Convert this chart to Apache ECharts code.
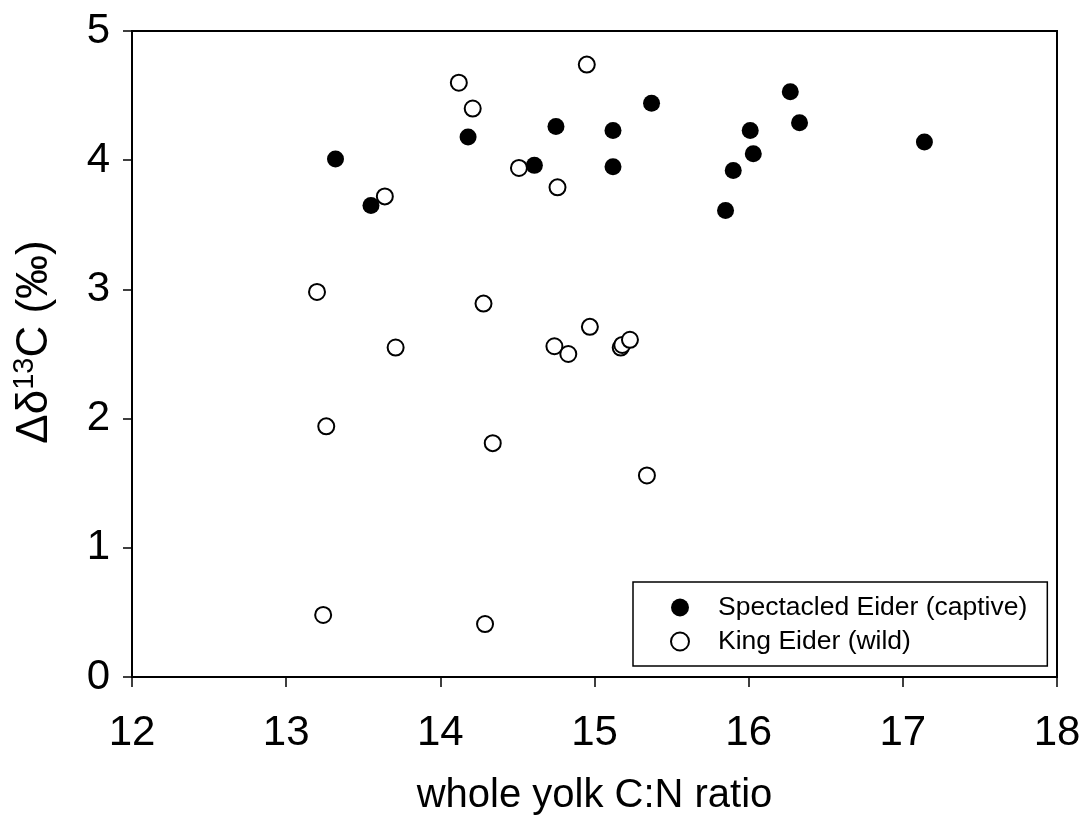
<!DOCTYPE html>
<html>
<head>
<meta charset="utf-8">
<script src="https://cdn.jsdelivr.net/npm/echarts@6/dist/echarts.min.js"></script>
<style>html,body{margin:0;padding:0;background:#fff;}#main{width:1086px;height:815px;}</style>
</head>
<body>
<div id="main"></div>
<script>
// Spectacled Eider (captive): whole yolk C:N ratio, Δδ13C
const spectacledX = [13.32, 13.55, 14.18, 14.61, 14.75, 15.12, 15.12, 15.37, 15.85, 15.90, 16.01, 16.03, 16.27, 16.33, 17.14];
const spectacledY = [4.01, 3.65, 4.18, 3.96, 4.26, 4.23, 3.95, 4.44, 3.61, 3.92, 4.23, 4.05, 4.53, 4.29, 4.14];
// King Eider (wild)
const kingX = [14.12, 14.21, 13.64, 14.51, 14.76, 14.95, 13.20, 13.71, 14.28, 13.26, 14.34, 14.74, 14.83, 14.97, 15.17, 15.18, 15.23, 15.34, 13.24, 14.29];
const kingY = [4.60, 4.40, 3.72, 3.94, 3.79, 4.74, 2.98, 2.55, 2.89, 1.94, 1.81, 2.56, 2.50, 2.71, 2.55, 2.57, 2.61, 1.56, 0.48, 0.41];
const seriesNames = ['Spectacled Eider (captive)', 'King Eider (wild)'];
const xTitle = 'whole yolk C:N ratio';

const FONT = '"Liberation Sans", Arial, sans-serif';
const pair = (xs, ys) => xs.map((x, i) => [x, ys[i]]);

const chart = echarts.init(document.getElementById('main'), null, {renderer: 'canvas'});
chart.setOption({
  animation: false,
  backgroundColor: '#fff',
  textStyle: {fontFamily: FONT, color: '#000'},
  grid: {left: 132, right: 29, top: 31, bottom: 138, containLabel: false, outerBoundsMode: 'none',
         show: true, borderColor: '#000', borderWidth: 2, backgroundColor: 'transparent'},
  xAxis: {
    type: 'value', min: 12, max: 18, interval: 1,
    name: xTitle, nameLocation: 'middle', nameGap: 99,
    nameTextStyle: {fontSize: 40, fontFamily: FONT, color: '#000'},
    axisLine: {show: true, lineStyle: {color: '#000', width: 2}},
    axisTick: {show: true, inside: false, length: 10, lineStyle: {color: '#000', width: 1.5}},
    axisLabel: {fontSize: 42, fontFamily: FONT, color: '#000', margin: 35},
    splitLine: {show: false}
  },
  yAxis: {
    type: 'value', min: 0, max: 5, interval: 1,
    name: '{a|Δδ}{b|13}{a|C (‰)}', nameLocation: 'middle', nameGap: 72, nameRotate: 90,
    nameTextStyle: {
      fontFamily: FONT, color: '#000', fontSize: 44,
      padding: [0, 0, 0, 24],
      rich: {
        a: {fontSize: 44, fontFamily: FONT, color: '#000', lineHeight: 50},
        b: {fontSize: 29, fontFamily: FONT, color: '#000', verticalAlign: 'top', lineHeight: 50}
      }
    },
    axisLine: {show: true, lineStyle: {color: '#000', width: 2}},
    axisTick: {show: true, inside: false, length: 9, lineStyle: {color: '#000', width: 1.5}},
    axisLabel: {fontSize: 42, fontFamily: FONT, color: '#000', margin: 22},
    splitLine: {show: false}
  },
  legend: {
    orient: 'vertical', left: 633, top: 582,
    data: seriesNames,
    backgroundColor: '#fff', borderColor: '#000', borderWidth: 1.5, borderRadius: 0,
    padding: [12, 20, 11, 37],
    itemWidth: 66, itemHeight: 18, itemGap: 7,
    textStyle: {fontSize: 26.5, fontFamily: FONT, color: '#000', lineHeight: 26},
    selectedMode: false
  },
  series: [
    {
      name: seriesNames[0], type: 'scatter', symbol: 'circle', symbolSize: 17,
      itemStyle: {color: '#000', borderColor: '#000', borderWidth: 0, opacity: 1},
      data: pair(spectacledX, spectacledY), z: 2
    },
    {
      name: seriesNames[1], type: 'scatter', symbol: 'circle', symbolSize: 16,
      itemStyle: {color: '#fff', borderColor: '#000', borderWidth: 2, opacity: 1},
      data: pair(kingX, kingY), z: 3
    }
  ]
});
</script>
</body>
</html>
